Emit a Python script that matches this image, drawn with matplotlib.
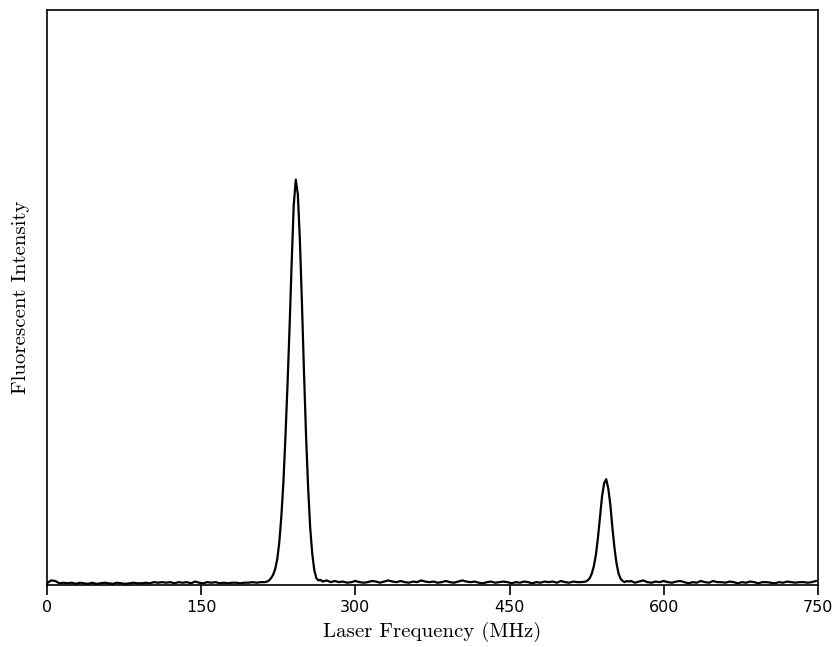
import matplotlib.pyplot as plt
import numpy as np

# frequency sampling (MHz): baseline every 4 MHz, peaks every 2 MHz
freq_a = np.arange(0, 214, 4)
freq_p1 = np.arange(214, 268, 2)
freq_b = np.arange(268, 524, 4)
freq_p2 = np.arange(524, 568, 2)
freq_c = np.arange(568, 751, 4)

# intensities (arbitrary units)
base_a = [0.003, 0.008, 0.007, 0.003, 0.004, 0.003, 0.004, 0.002, 0.004, 0.003,
          0.002, 0.004, 0.002, 0.003, 0.004, 0.003, 0.002, 0.004, 0.003, 0.002,
          0.003, 0.004, 0.003, 0.003, 0.004, 0.003, 0.005, 0.004, 0.005, 0.004,
          0.005, 0.003, 0.005, 0.004, 0.005, 0.003, 0.006, 0.004, 0.003, 0.005,
          0.004, 0.005, 0.003, 0.004, 0.003, 0.004, 0.004, 0.003, 0.004, 0.004,
          0.005, 0.004, 0.005, 0.005]
peak_1 = [0.006, 0.008, 0.012, 0.018, 0.028, 0.045, 0.075, 0.12, 0.18, 0.26,
          0.35, 0.45, 0.56, 0.66, 0.705, 0.68, 0.60, 0.49, 0.37, 0.26,
          0.17, 0.10, 0.055, 0.026, 0.012, 0.008, 0.009]
base_b = [0.006, 0.008, 0.005, 0.007, 0.005, 0.006, 0.004, 0.005, 0.007, 0.005,
          0.004, 0.005, 0.007, 0.006, 0.004, 0.006, 0.008, 0.006, 0.005, 0.007,
          0.005, 0.004, 0.006, 0.005, 0.008, 0.006, 0.005, 0.006, 0.004, 0.005,
          0.007, 0.005, 0.004, 0.006, 0.008, 0.006, 0.005, 0.006, 0.004, 0.003,
          0.005, 0.006, 0.004, 0.005, 0.006, 0.005, 0.003, 0.005, 0.004, 0.006,
          0.005, 0.003, 0.005, 0.004, 0.006, 0.005, 0.006, 0.004, 0.007, 0.005,
          0.004, 0.006, 0.005, 0.005]
peak_2 = [0.006, 0.008, 0.012, 0.020, 0.033, 0.053, 0.083, 0.12, 0.155, 0.177,
          0.184, 0.168, 0.14, 0.10, 0.065, 0.038, 0.020, 0.011, 0.007, 0.005,
          0.007, 0.006]
base_c = [0.007, 0.004, 0.006, 0.008, 0.005, 0.004, 0.006, 0.005, 0.007, 0.005,
          0.004, 0.006, 0.007, 0.005, 0.003, 0.005, 0.004, 0.007, 0.005, 0.004,
          0.007, 0.005, 0.005, 0.004, 0.006, 0.005, 0.003, 0.005, 0.004, 0.006,
          0.005, 0.003, 0.005, 0.005, 0.004, 0.003, 0.005, 0.004, 0.006, 0.005,
          0.004, 0.005, 0.005, 0.004, 0.005, 0.007]

freq = np.concatenate([freq_a, freq_p1, freq_b, freq_p2, freq_c])
intensity = np.concatenate([base_a, peak_1, base_b, peak_2, base_c])

xticks = [0, 150, 300, 450, 600, 750]

fig = plt.figure(figsize=(8.35, 6.47), dpi=100)
ax = fig.add_axes([0.0563, 0.0958, 0.9233, 0.8887])
ax.plot(freq, intensity, color='black', linewidth=1.6)
ax.set_xlim(0, 750)
ax.set_ylim(0, 1.0)

ax.set_xticks(xticks)
ax.set_xticklabels([str(t) for t in xticks], fontsize=11.5, family='DejaVu Sans')
ax.tick_params(axis='x', direction='out', length=7, width=1.2, pad=4)
ax.set_yticks([])
for s in ax.spines.values():
    s.set_linewidth(1.2)

ax.set_xlabel("Laser Frequency (MHz)", fontsize=15, family='cmr10', labelpad=5)
ax.set_ylabel("Fluorescent Intensity", fontsize=15, family='cmr10', labelpad=12)

fig.savefig("out.png", dpi=100)
